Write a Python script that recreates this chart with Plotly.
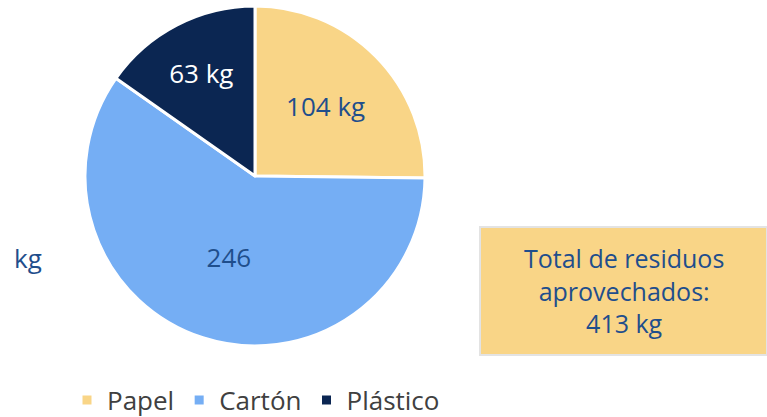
import plotly.graph_objects as go

categories = ["Papel", "Cartón", "Plástico"]
values = [104, 246, 63]
label_templates = ["%{value} kg", "%{value}", "%{value} kg"]
colors = ["#F9D587", "#75AEF4", "#0B2652"]
text_colors = ["#1F4E8C", "#1F4E8C", "#FFFFFF"]
total_text = "Total de residuos<br>aprovechados:<br>413 kg"

W, H = 767, 417
FONT = "'Open Sans', sans-serif"

fig = go.Figure(go.Pie(
    labels=categories,
    values=values,
    sort=False,
    direction="clockwise",
    rotation=0,
    marker=dict(colors=colors, line=dict(color="white", width=3)),
    texttemplate=label_templates,
    textinfo="text",
    textposition="inside",
    insidetextorientation="horizontal",
    insidetextfont=dict(color=text_colors, size=26, family=FONT),
    domain=dict(x=[85 / W, 425 / W], y=[1 - 346 / H, 1 - 6 / H]),
    hoverinfo="label+value",
))

fig.add_shape(type="rect", xref="paper", yref="paper",
              x0=480 / W, x1=1.0, y0=1 - 355 / H, y1=1 - 227 / H,
              fillcolor="#F9D587", line=dict(color="#E3E3E3", width=2), layer="below")
fig.add_annotation(xref="paper", yref="paper", x=(480 + 767) / 2 / W, y=1 - 290 / H,
                   xanchor="center", yanchor="middle",
                   text=total_text, showarrow=False,
                   font=dict(size=25, color="#1F4E8C", family=FONT), align="center")
fig.add_annotation(xref="paper", yref="paper", x=28 / W, y=1 - 258 / H,
                   xanchor="center", yanchor="middle",
                   text="kg", showarrow=False,
                   font=dict(size=26, color="#1F4E8C", family=FONT))

fig.update_layout(
    width=W, height=H,
    margin=dict(l=0, r=0, t=0, b=0, autoexpand=False),
    paper_bgcolor="white", plot_bgcolor="white",
    showlegend=True,
    legend=dict(orientation="h", x=256 / W, xanchor="center", y=1 - 400 / H, yanchor="middle",
                font=dict(size=26, color="#404040", family=FONT)),
)

fig.write_html("out.html", config={"displayModeBar": False},
               post_script="document.body.style.margin='0';")
